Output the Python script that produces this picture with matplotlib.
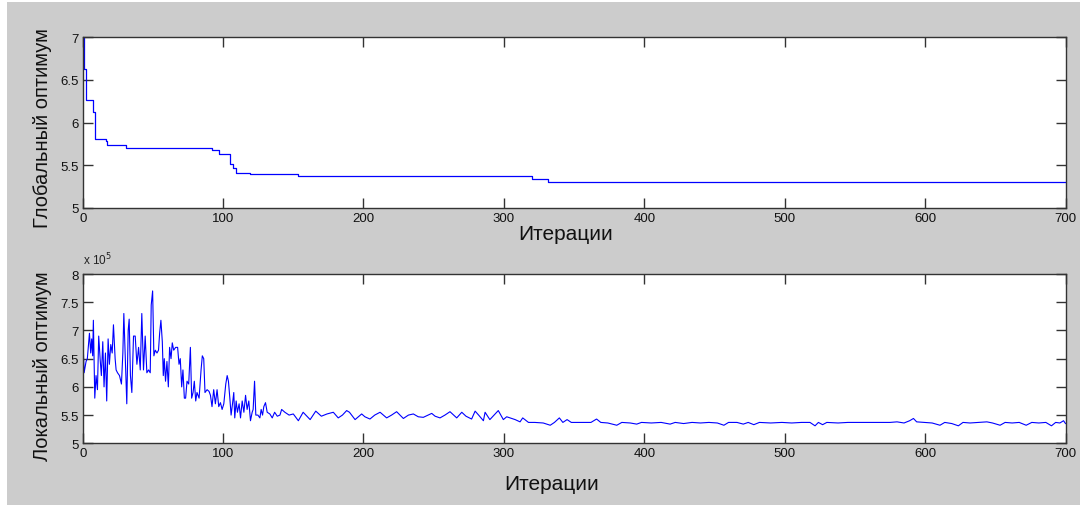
import matplotlib
matplotlib.use("Agg")
import matplotlib.pyplot as plt
import numpy as np
from matplotlib.patches import Rectangle
from matplotlib.ticker import FuncFormatter

plt.rcParams['font.family'] = ['Liberation Sans', 'DejaVu Sans']

# global optimum: best-so-far value, changes at these iterations
global_iter = [0, 1, 2, 7, 9, 16.7, 17.6, 31, 92.4, 97, 105, 107, 109, 119.5,
               153.6, 320, 331.6, 700]
global_val = [7.0, 6.63, 6.26, 6.13, 5.81, 5.78, 5.74, 5.70, 5.68, 5.63, 5.52,
              5.47, 5.41, 5.40, 5.37, 5.34, 5.30, 5.30]

# local optimum (x 1e5)
local_iter = [
    0, 1, 2.4, 3.3, 4, 4.8, 5.7, 6.4, 7.1, 7.6, 8.6, 9.5, 10.5, 11.4, 12.4, 13.3,
    14.3, 15.2, 16.2, 17.1, 18.1, 19, 20, 21, 21.9, 23.1, 23.8, 24.8, 26.2, 27.6,
    28.6, 29.3, 30.5, 31.4, 32.4, 33.1, 34, 35, 36.2, 37.4, 38.6, 39.8, 41, 42.1,
    43.3, 44.5, 45.7, 46.9, 48.1, 48.8, 49.8, 50.7, 51.7, 52.9, 54, 54.8, 55.7,
    56.7, 57.4, 58.1, 59, 60, 61, 61.9, 62.9, 63.8, 64.8, 66.2, 67.6, 68.6, 69.5,
    70.5, 71.4, 72.4, 73.3, 74.3, 75.5, 76.7, 77.6, 78.6, 79.5, 80.5, 81.4, 82.9,
    84.3, 85.2, 86.2, 87.1, 88.6, 90, 91, 92.1, 93.3, 94.5, 95.7, 96.9, 98.1,
    99.3, 100.5, 101.9, 102.9, 103.8, 104.8, 105.7, 106.7, 107.6, 108.3, 109.3,
    110.2, 111.4, 112.4, 113.6, 114.8, 116, 117.1, 118.3, 119.5, 120.7, 121.4,
    122.4, 123.3, 124.8, 126.2, 127.1, 128.1, 129, 130.2, 131.4, 133.3, 135,
    136.7, 138.6, 140.5,
    141.7, 144, 147, 150, 153.6, 157, 162, 166, 170, 174, 178.5, 182, 185, 188,
    190, 194, 198.7, 201, 204.6, 208, 211.8, 216.5, 220, 223.6, 228.4, 232,
    235.5, 239, 242.6, 246, 248.6, 251, 254.5, 258, 261.6, 266.4, 270, 273, 277,
    279.5, 282, 285.4, 286.6, 290, 293, 296, 299.6, 302, 304.4, 308, 311.5,
    313.4, 317.5,
    322, 328, 333, 336, 339.5, 342, 345, 348, 355, 362, 366, 369, 374, 380.4, 384,
    390, 394.6, 398, 405, 412, 418.4, 422, 428, 434, 440, 446, 452, 456.7, 460,
    466, 470.5, 474, 478, 482, 490, 498, 505, 512, 518, 521.6, 524, 527, 530,
    538, 545, 555, 565, 575, 580, 585, 589, 591.7, 594, 600, 605, 610.6, 614,
    619, 623.7, 627, 632, 638, 644, 648, 653.4, 657, 662, 667, 672, 676, 681,
    686, 690, 693, 696, 698.6, 700]
local_val = [
    7.0, 6.25, 6.45, 6.5, 6.7, 6.95, 6.6, 6.85, 6.55, 7.18, 5.8, 6.2, 5.95, 6.9,
    6.5, 6.2, 6.8, 6.0, 6.6, 5.75, 6.85, 6.4, 6.75, 6.6, 7.1, 6.5, 6.3, 6.25, 6.2,
    6.05, 6.6, 7.3, 6.4, 5.7, 7.0, 7.2, 6.2, 5.9, 6.9, 6.9, 6.4, 6.7, 6.3, 7.3,
    6.3, 6.9, 6.25, 6.3, 6.25, 7.45, 7.7, 6.55, 6.65, 6.6, 6.65, 6.95, 7.18, 6.8,
    6.2, 6.5, 6.1, 6.45, 6.0, 6.7, 6.5, 6.78, 6.65, 6.7, 6.7, 6.4, 6.5, 6.0, 6.3,
    5.8, 5.8, 6.1, 6.05, 6.7, 5.8, 5.9, 6.1, 5.75, 5.9, 5.8, 6.3, 6.55, 6.5, 5.9,
    5.95, 5.92, 5.85, 5.65, 5.95, 5.7, 5.95, 5.65, 5.72, 5.6, 5.7, 6.05, 6.2,
    6.1, 5.8, 5.5, 5.7, 5.9, 5.45, 5.75, 5.55, 5.7, 5.45, 5.75, 5.55, 5.85, 5.6,
    5.75, 5.4, 5.55, 5.6, 6.1, 5.5, 5.5, 5.45, 5.6, 5.5, 5.65, 5.72, 5.55, 5.52,
    5.45, 5.55, 5.48, 5.5,
    5.6, 5.55, 5.5, 5.52, 5.4, 5.55, 5.42, 5.57, 5.48, 5.52, 5.55, 5.45, 5.5,
    5.58, 5.55, 5.42, 5.52, 5.47, 5.43, 5.5, 5.55, 5.45, 5.5, 5.56, 5.44, 5.5,
    5.52, 5.47, 5.46, 5.5, 5.53, 5.48, 5.45, 5.5, 5.56, 5.45, 5.55, 5.48, 5.43,
    5.57, 5.5, 5.4, 5.55, 5.42, 5.5, 5.58, 5.42, 5.47, 5.45, 5.42, 5.38, 5.45,
    5.37,
    5.37, 5.36, 5.32, 5.37, 5.45, 5.37, 5.42, 5.37, 5.37, 5.37, 5.43, 5.37, 5.36,
    5.32, 5.37, 5.36, 5.34, 5.37, 5.36, 5.37, 5.34, 5.37, 5.35, 5.37, 5.36, 5.37,
    5.36, 5.32, 5.37, 5.37, 5.34, 5.37, 5.33, 5.37, 5.36, 5.37, 5.36, 5.37, 5.37,
    5.31, 5.37, 5.33, 5.37, 5.36, 5.37, 5.37, 5.37, 5.37, 5.38, 5.36, 5.4, 5.44,
    5.38, 5.37, 5.36, 5.32, 5.37, 5.35, 5.31, 5.37, 5.36, 5.37, 5.38, 5.36, 5.32,
    5.37, 5.36, 5.37, 5.32, 5.37, 5.36, 5.37, 5.31, 5.37, 5.36, 5.4, 5.35]

x_ticks = [0, 100, 200, 300, 400, 500, 600, 700]
x_label = "Итерации"
y_label_top = "Глобальный оптимум"
y_label_bottom = "Локальный оптимум"

W, H = 1080, 506
fig = plt.figure(figsize=(W / 100, H / 100), dpi=100, facecolor='white')
fig.patches.append(Rectangle((7 / W, 0), 1 - 7 / W, 1 - 3 / H, transform=fig.transFigure,
                             facecolor='#cccccc', edgecolor='none', zorder=-10))

ax1 = fig.add_axes([82.7 / W, (H - 209) / H, 982.8 / W, 170.7 / H])
ax2 = fig.add_axes([82.7 / W, (H - 444.3) / H, 982.8 / W, 169.3 / H])

ax1.step(global_iter, global_val, where='post', color='#0000ff', lw=0.9)
ax2.plot(local_iter, np.array(local_val) * 1e5, color='#0000ff', lw=0.8)

ax1.set_ylim(5, 7)
ax1.set_yticks([5, 5.5, 6, 6.5, 7])
ax1.yaxis.set_major_formatter(FuncFormatter(lambda v, p: f"{v:g}"))
ax2.set_ylim(5e5, 8e5)
ax2.set_yticks(np.arange(5e5, 8.01e5, 0.5e5))
ax2.yaxis.set_major_formatter(FuncFormatter(lambda v, p: f"{v / 1e5:g}"))
ax2.text(0, 1.04, r"x 10$^5$", transform=ax2.transAxes, fontsize=8.5,
         color='#222222', ha='left', va='bottom')

for ax in (ax1, ax2):
    ax.set_xlim(0, 700)
    ax.set_xticks(x_ticks)
    ax.set_facecolor('white')
    ax.tick_params(direction='in', length=7, width=1, top=True, right=True,
                   labelsize=9.5, pad=3, colors='#333333', labelcolor='#111111')
    for s in ax.spines.values():
        s.set_color('#333333')
        s.set_linewidth(1.0)
    ax.set_xlabel(x_label, fontsize=15, color='#111111')

ax1.set_ylabel(y_label_top, fontsize=14.5, color='#111111')
ax2.set_ylabel(y_label_bottom, fontsize=14.5, color='#111111')
ax1.xaxis.set_label_coords(0.491, -0.094)
ax2.xaxis.set_label_coords(0.477, -0.181)
ax1.yaxis.set_label_coords(-0.031, 0.472)
ax2.yaxis.set_label_coords(-0.031, 0.464)

fig.savefig("out.png", dpi=100, facecolor=fig.get_facecolor())
